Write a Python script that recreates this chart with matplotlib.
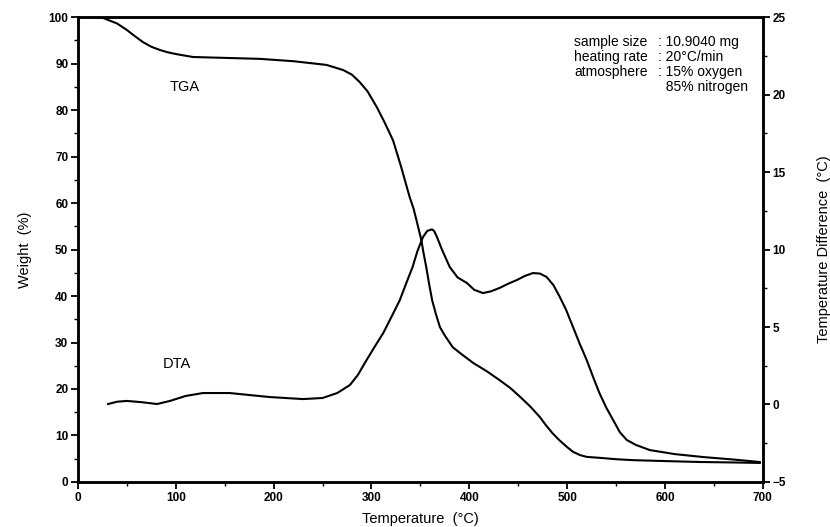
import matplotlib
matplotlib.use("Agg")
import matplotlib.pyplot as plt
from matplotlib.ticker import MultipleLocator

plt.rcParams['font.family'] = ['Liberation Sans', 'DejaVu Sans']

# TGA: temperature (°C) vs weight (%)
tga_temp = [0, 15, 25.5, 40, 50, 58, 66.4, 75, 83.8, 92, 101, 117.5, 152, 186, 220, 254,
            271, 280, 288, 296, 305.5, 313, 322, 330, 339, 343, 346, 351, 353, 356, 359,
            362, 366, 370, 375, 383, 392, 404, 418, 431, 442, 452, 462, 472, 478, 485,
            492, 500, 506, 513, 520, 533, 550, 567, 600, 636, 670, 697]
tga_weight = [100, 100, 99.8, 98.6, 97.2, 95.9, 94.6, 93.6, 92.9, 92.4, 92.0, 91.4, 91.2,
              91.0, 90.5, 89.7, 88.6, 87.6, 86.0, 84.0, 80.6, 77.5, 73.5, 68.0, 61.3,
              58.8, 56.3, 52.0, 49.5, 46.2, 42.5, 39.1, 36.0, 33.3, 31.5, 29.0, 27.5,
              25.6, 23.8, 21.9, 20.2, 18.3, 16.3, 14.0, 12.3, 10.5, 9.0, 7.5, 6.5, 5.8,
              5.4, 5.2, 4.9, 4.7, 4.5, 4.3, 4.2, 4.1]

# DTA: temperature (°C) vs temperature difference (°C)
dta_temp = [30.7, 40, 50, 65, 80.7, 94, 110, 127.7, 155, 196, 230, 250, 265, 278, 286,
            295, 303, 312, 320, 329, 336, 342, 347, 352.6, 357, 361.8, 364, 367, 372,
            380, 388, 397.5, 405, 414, 422, 431, 440, 448.6, 457, 465, 472, 479, 486,
            492.5, 499, 506, 513, 520, 527, 533, 540, 547, 554, 561, 570, 584.5, 610,
            639, 670, 697]
dta_diff = [0.03, 0.18, 0.23, 0.15, 0.03, 0.23, 0.55, 0.74, 0.74, 0.48, 0.35, 0.42, 0.74,
            1.26, 1.9, 2.87, 3.7, 4.61, 5.6, 6.74, 7.9, 8.87, 9.9, 10.8, 11.2, 11.3,
            11.2, 10.8, 10.0, 8.87, 8.2, 7.84, 7.4, 7.19, 7.3, 7.52, 7.8, 8.03, 8.3,
            8.48, 8.45, 8.23, 7.7, 6.94, 6.1, 5.0, 3.9, 2.87, 1.7, 0.74, -0.2, -1.0,
            -1.8, -2.29, -2.6, -2.94, -3.2, -3.39, -3.55, -3.71]

x_ticks = [0, 100, 200, 300, 400, 500, 600, 700]
y_ticks = [0, 10, 20, 30, 40, 50, 60, 70, 80, 90, 100]
y2_ticks = [-5, 0, 5, 10, 15, 20, 25]

info_keys = ["sample size", "heating rate", "atmosphere", ""]
info_vals = [": 10.9040 mg", ": 20°C/min", ": 15% oxygen", "  85% nitrogen"]

fig = plt.figure(figsize=(8.3, 5.27), dpi=100)
ax = fig.add_axes([0.094, 0.0854, 0.825, 0.8823])
ax2 = ax.twinx()

ax.plot(tga_temp, tga_weight, color='black', lw=1.5)
ax2.plot(dta_temp, dta_diff, color='black', lw=1.5)

ax.set_xlim(0, 700)
ax.set_ylim(0, 100)
ax2.set_ylim(-5, 25)

ax.set_xticks(x_ticks)
ax.set_yticks(y_ticks)
ax2.set_yticks(y2_ticks)
ax.xaxis.set_minor_locator(MultipleLocator(50))
ax.yaxis.set_minor_locator(MultipleLocator(5))
ax2.yaxis.set_minor_locator(MultipleLocator(2.5))

for a in (ax, ax2):
    for s in a.spines.values():
        s.set_linewidth(1.8)
    a.tick_params(which='major', direction='out', length=5, width=1.3,
                  labelsize=8.5, pad=2)
    a.tick_params(which='minor', direction='out', length=3, width=1.0)
    for lab in a.get_xticklabels() + a.get_yticklabels():
        lab.set_fontweight('bold')

ax.set_xlabel("Temperature  (°C)", fontsize=10.5, labelpad=6)
ax.set_ylabel("Weight  (%)", fontsize=10.5, labelpad=12)
ax2.set_ylabel("Temperature Difference  (°C)", fontsize=10.5, labelpad=22)

ax.text(109, 85.0, "TGA", fontsize=10.5, ha='center', va='center')
ax.text(101, 25.4, "DTA", fontsize=10.5, ha='center', va='center')

y0 = 94.6
dy = 3.2
for i, (k, v) in enumerate(zip(info_keys, info_vals)):
    yy = y0 - i * dy
    if k:
        ax.text(507, yy, k, fontsize=10, ha='left', va='center')
    ax.text(593, yy, v, fontsize=10, ha='left', va='center')

fig.savefig("out.png", dpi=100)
